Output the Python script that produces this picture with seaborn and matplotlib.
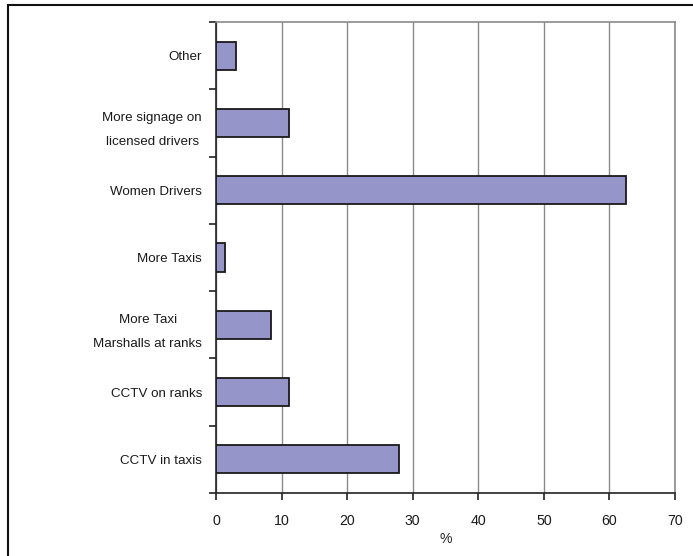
import matplotlib
matplotlib.use("Agg")
import matplotlib.pyplot as plt
from matplotlib.patches import Rectangle
import seaborn as sns
import pandas as pd
import numpy as np

categories = [
    "Other",
    "More signage on\nlicensed drivers",
    "Women Drivers",
    "More Taxis",
    "More Taxi\nMarshalls at ranks",
    "CCTV on ranks",
    "CCTV in taxis",
]
percent = [3.0, 11.2, 62.5, 1.3, 8.4, 11.2, 27.9]
x_ticks = [0, 10, 20, 30, 40, 50, 60, 70]

df = pd.DataFrame({"measure": categories, "pct": percent})

sns.set_style("white")
plt.rcParams["font.family"] = ["Liberation Sans", "DejaVu Sans"]
plt.rcParams["font.size"] = 9.6
plt.rcParams["text.color"] = "#1a1a1a"
plt.rcParams["xtick.color"] = "#1a1a1a"
plt.rcParams["ytick.color"] = "#1a1a1a"

fig = plt.figure(figsize=(6.93, 5.56), dpi=100)
ax = fig.add_axes([216 / 693, 1 - 493 / 556, (675 - 216) / 693, (493 - 22) / 556])

sns.barplot(data=df, x="pct", y="measure", order=categories, orient="h",
            color="#9595C9", saturation=1, width=0.42,
            edgecolor="#1a1a1a", linewidth=1.3, ax=ax, zorder=3)

ax.set_xlim(0, 70)
ax.set_ylim(len(categories) - 0.5, -0.5)
ax.set_xticks(x_ticks)
ax.set_xticklabels([str(t) for t in x_ticks], fontsize=10.2)
ax.set_xlabel("%", fontsize=10.2, labelpad=3)
ax.set_ylabel("")

# vertical gridlines
ax.xaxis.grid(True, color="#8a8a8a", linewidth=1.0, zorder=0)
ax.set_axisbelow(True)

# category ticks at band boundaries, labels centered on bars
ax.set_yticks(np.arange(len(categories) + 1) - 0.5, minor=True)
ax.tick_params(axis="y", which="major", left=False, length=0, pad=10)
ax.tick_params(axis="y", which="minor", left=True, length=5, width=1.2,
               color="#222222", direction="out")
ax.tick_params(axis="x", which="major", bottom=True, length=5, width=1.2,
               color="#222222", direction="out", pad=10)
for lab in ax.get_yticklabels():
    lab.set_multialignment("center")
    lab.set_linespacing(2.25)

for side in ("left", "bottom"):
    ax.spines[side].set_color("#222222")
    ax.spines[side].set_linewidth(1.2)
for side in ("top", "right"):
    ax.spines[side].set_color("#8a8a8a")
    ax.spines[side].set_linewidth(1.2)

# outer chart frame
fig.patches.append(Rectangle((7.5 / 693, -0.05), 1.1, 1 - 5 / 556 + 0.05,
                             transform=fig.transFigure, fill=False,
                             edgecolor="#111111", linewidth=1.5))

fig.savefig("out.png", dpi=100)
